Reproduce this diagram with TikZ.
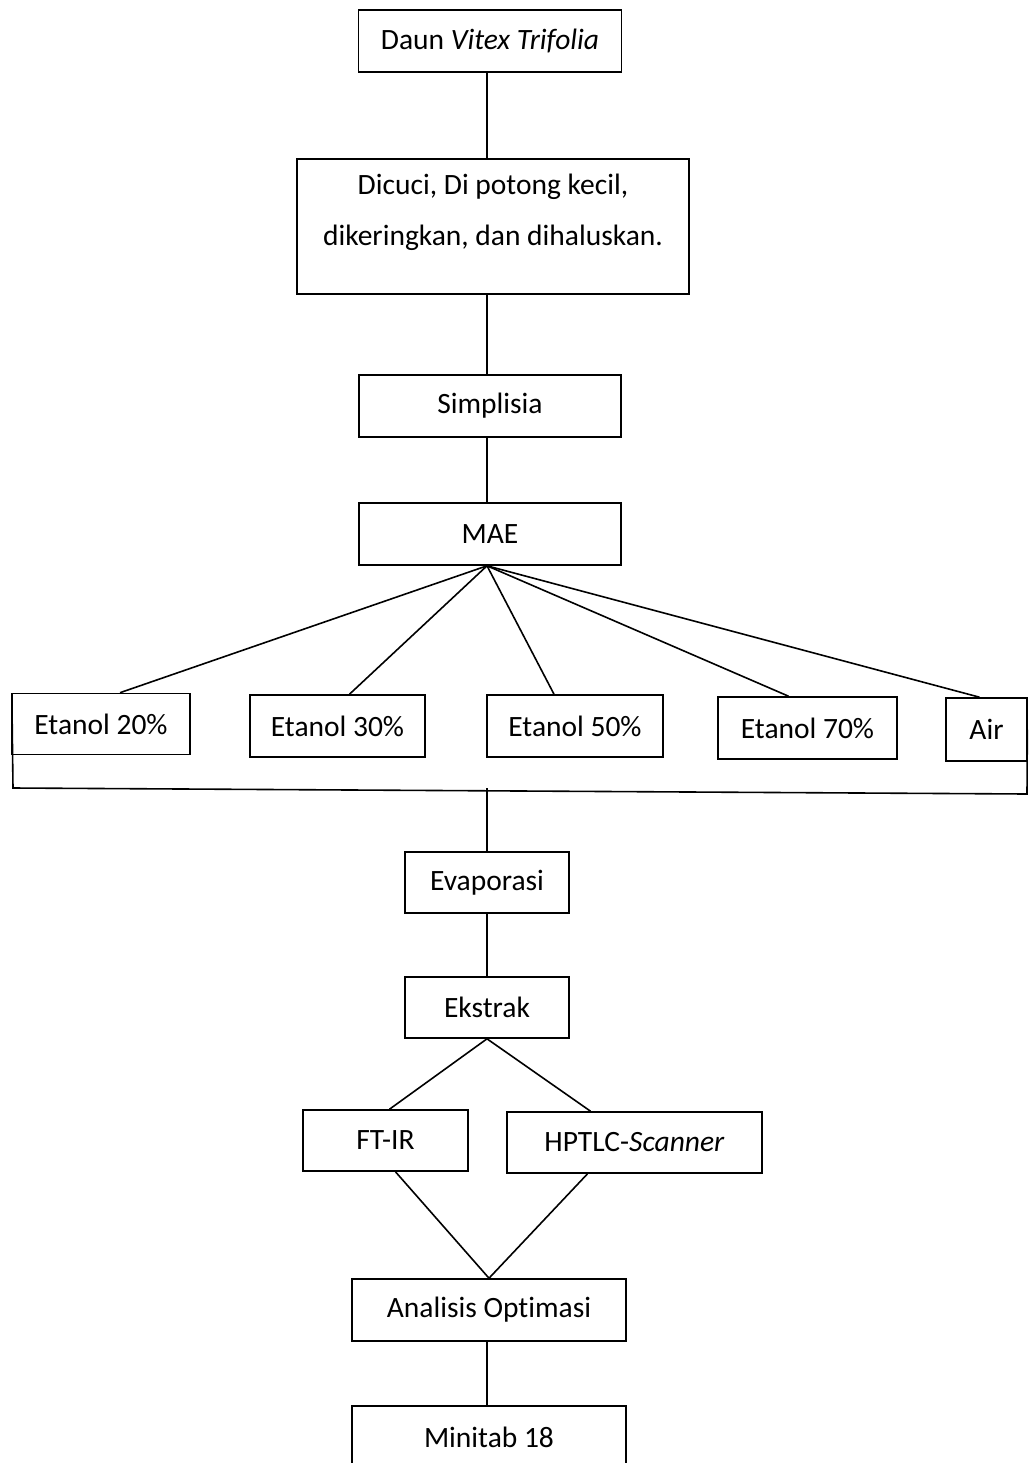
\documentclass[tikz,border=0pt]{standalone}
\usepackage{fontspec}
\setmainfont{Carlito}[Ligatures=NoCommon]
\usetikzlibrary{calc}
\begin{document}
\begin{tikzpicture}[x=1pt,y=-1pt,
  box/.style={draw,line width=1.6pt,inner sep=0pt,font=\fontsize{29.5}{35}\selectfont},
  conn/.style={line width=1.6pt}]
\useasboundingbox (0,0) rectangle (1028,1463);
\clip (0,0) rectangle (1028,1463);
\node[box,minimum width=263,minimum height=62] (daun) at (490,41) {Daun \textit{Vitex Trifolia}};
\node[box,minimum width=392,minimum height=135,
  label={[font=\fontsize{29.5}{51}\selectfont,align=center,yshift=14]center:{Dicuci, Di potong kecil,\\dikeringkan, dan dihaluskan.}}] (dic) at (493,226.5) {};
\node[box,minimum width=262,minimum height=62] (simp) at (490,406) {Simplisia};
\node[box,minimum width=262,minimum height=62] (mae) at (490,534) {MAE};
\node[box,minimum width=178,minimum height=61] (e20) at (101,724) {Etanol 20\%};
\node[box,minimum width=175,minimum height=62] (e30) at (337.5,726) {Etanol 30\%};
\node[box,minimum width=176,minimum height=62] (e50) at (575,726) {Etanol 50\%};
\node[box,minimum width=179,minimum height=62] (e70) at (807.5,728) {Etanol 70\%};
\node[box,minimum width=81,minimum height=63] (air) at (986.5,729.5) {Air};
\node[box,minimum width=164,minimum height=61] (evap) at (487,882.5) {Evaporasi};
\node[box,minimum width=164,minimum height=61] (eks) at (487,1007.5) {Ekstrak};
\node[box,minimum width=165,minimum height=61] (ft) at (385.5,1140.5) {FT-IR};
\node[box,minimum width=255,minimum height=61] (hp) at (634.5,1142.5) {HPTLC-\textit{Scanner}};
\node[box,minimum width=274,minimum height=62] (ana) at (489,1310) {Analisis Optimasi};
\node[box,minimum width=274,minimum height=62] (mini) at (489,1437) {Minitab 18};
% connectors
\draw[conn] ([xshift=-3]daun.south) -- ([xshift=-3]daun.south |- dic.north);
\draw[conn] ([xshift=-6]dic.south) -- ([xshift=-6]dic.south |- simp.north);
\draw[conn] ([xshift=-3]simp.south) -- ([xshift=-3]simp.south |- mae.north);
\coordinate (m) at ([xshift=-3]mae.south);
\draw[conn] (m) -- ([xshift=19]e20.north);
\draw[conn] (m) -- ([xshift=12]e30.north);
\draw[conn] (m) -- ([xshift=-21]e50.north);
\draw[conn] (m) -- ([xshift=-19]e70.north);
\draw[conn] (m) -- ([xshift=-7]air.north);
\coordinate (bl) at (13,788);
\coordinate (br) at (1027,794);
\draw[conn] ([xshift=1]e20.west) -- (bl) -- (br) -- ([xshift=-0.5]air.east);
\coordinate (bm) at (487,788);
\draw[conn] (bm) -- (evap.north);
\draw[conn] (evap.south) -- (eks.north);
\draw[conn] (eks.south) -- ([xshift=4]ft.north);
\draw[conn] (eks.south) -- ([xshift=-44]hp.north);
\draw[conn] ([xshift=10]ft.south) -- (ana.north);
\draw[conn] ([xshift=-47]hp.south) -- (ana.north);
\draw[conn] ([xshift=-2]ana.south) -- ([xshift=-2]mini.north);
\end{tikzpicture}
\end{document}
